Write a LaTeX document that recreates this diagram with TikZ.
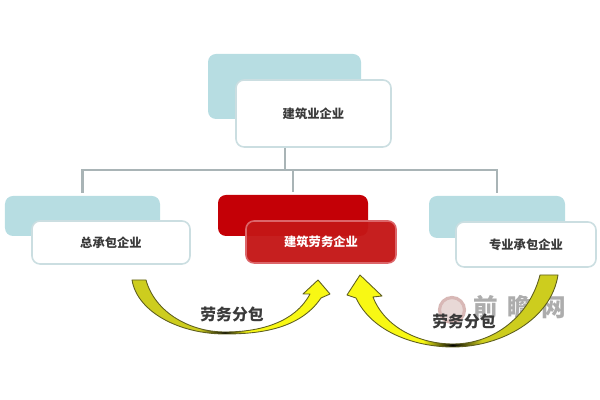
\documentclass[tikz,border=0pt]{standalone}
\usepackage{fontspec}
\usepackage{tikz}
\usetikzlibrary{positioning}
\newfontfamily\cjkfont{Noto Sans CJK SC}
\definecolor{boxblue}{HTML}{B7DDE2}
\definecolor{boxedge}{HTML}{CBDEE1}
\definecolor{boxred}{HTML}{C40006}
\definecolor{boxredfront}{HTML}{C41616}
\definecolor{linkgrey}{HTML}{A9B4B6}
\definecolor{textgrey}{HTML}{3A3A3A}
\definecolor{arcolive}{HTML}{CDCD1E}
\definecolor{arcyellow}{HTML}{F8F814}
\definecolor{arcedge}{HTML}{5F5F20}
\definecolor{logoring}{HTML}{D8B8B6}
\definecolor{logofill}{HTML}{E8D8D6}
\pgfdeclarehorizontalshading{leftarc}{100bp}{color(0bp)=(arcolive); color(42bp)=(arcolive); color(48.5bp)=(black); color(54bp)=(arcyellow); color(100bp)=(arcyellow)}
\pgfdeclarehorizontalshading{rightarc}{100bp}{color(0bp)=(arcyellow); color(43bp)=(arcyellow); color(50bp)=(black); color(57bp)=(arcolive); color(100bp)=(arcolive)}
\tikzset{backbox/.style = {rectangle, rounded corners=1.6mm, fill=boxblue, inner sep=0}}
\tikzset{frontbox/.style = {rectangle, rounded corners=1.6mm, draw=boxedge, line width=0.9pt, fill=white, inner sep=0, text=textgrey, font=\cjkfont\bfseries\fontsize{7}{8}\selectfont}}
\tikzset{redback/.style = {backbox, fill=boxred}}
\tikzset{redfront/.style = {frontbox, draw=boxred!60!white, fill=boxredfront, fill opacity=0.96, text opacity=1, text=white}}
\tikzset{link/.style = {draw=linkgrey, line width=1.2pt}}
\tikzset{arc/.style = {shade, draw=arcedge, line width=0.5pt, line join=round}}
\tikzset{arclabel/.style = {inner sep=0, text=textgrey, font=\cjkfont\bfseries\fontsize{9}{10}\selectfont}}
\begin{document}
\begin{tikzpicture}
      \useasboundingbox (0, 0) rectangle (12, 8);
      \node [backbox, minimum width=3.06cm, minimum height=1.30cm] (topback) at (5.69, 6.27) {};
      \node [frontbox, minimum width=3.10cm, minimum height=1.34cm] (top) at (6.27, 5.73) {建筑业企业};
      \node [backbox, minimum width=3.10cm, minimum height=0.80cm] (leftback) at (1.65, 3.68) {};
      \node [frontbox, minimum width=3.16cm, minimum height=0.86cm] (left) at (2.22, 3.15) {总承包企业};
      \node [redback, minimum width=3.00cm, minimum height=0.82cm] (midback) at (5.86, 3.69) {};
      \node [redfront, minimum width=3.00cm, minimum height=0.84cm] (mid) at (6.42, 3.16) {建筑劳务企业};
      \node [backbox, minimum width=2.72cm, minimum height=0.84cm] (rightback) at (9.94, 3.66) {};
      \node [frontbox, minimum width=2.80cm, minimum height=0.90cm] (right) at (10.52, 3.11) {专业承包企业};
      \coordinate (hub) at (5.70, 4.60);
      \draw [link] (top.south -| hub) -- (hub);
      \draw [link, shorten >=0.06cm] (hub) -| (leftback.north);
      \draw [link, shorten >=0.06cm] (hub) -| (midback.north);
      \draw [link, shorten >=0.06cm] (hub) -| (rightback.north);
      % watermark
      \node [circle, draw=logoring, line width=1.8pt, fill=logofill, minimum size=0.50cm, inner sep=0] (logo) at (9.04, 1.80) {};
      \node [inner sep=0, text=black!32, font=\cjkfont\bfseries\fontsize{14}{16}\selectfont] (mark) at (10.40, 1.86) {前\hspace{5.5pt}瞻\hspace{5.5pt}网};
      % yellow arrows
      \path [arc, shading=leftarc] (2.64, 2.40) .. controls (2.75, 1.75) and (3.6, 1.32) .. (4.5, 1.32)
        .. controls (5.2, 1.32) and (6.0, 1.42) .. (6.42, 2.04) -- (6.60, 2.12) -- (6.36, 2.40) -- (6.06, 2.12) -- (6.20, 2.12)
        .. controls (5.9, 1.55) and (5.2, 1.36) .. (4.5, 1.36)
        .. controls (3.8, 1.36) and (3.1, 1.75) .. (2.92, 2.40) -- cycle;
      \path [arc, shading=rightarc] (11.16, 2.50) .. controls (11.02, 1.60) and (10.00, 1.06) .. (9.06, 1.06)
        .. controls (8.30, 1.06) and (7.44, 1.36) .. (7.12, 2.04) -- (6.94, 2.10) -- (7.20, 2.50) -- (7.64, 2.08) -- (7.46, 2.06)
        .. controls (7.70, 1.44) and (8.40, 1.12) .. (9.06, 1.12)
        .. controls (9.90, 1.12) and (10.60, 1.70) .. (10.80, 2.50) -- cycle;
      \node [arclabel] (leftlabel) at (4.64, 1.72) {劳务分包};
      \node [arclabel] (rightlabel) at (9.28, 1.58) {劳务分包};
    \end{tikzpicture}
\end{document}
